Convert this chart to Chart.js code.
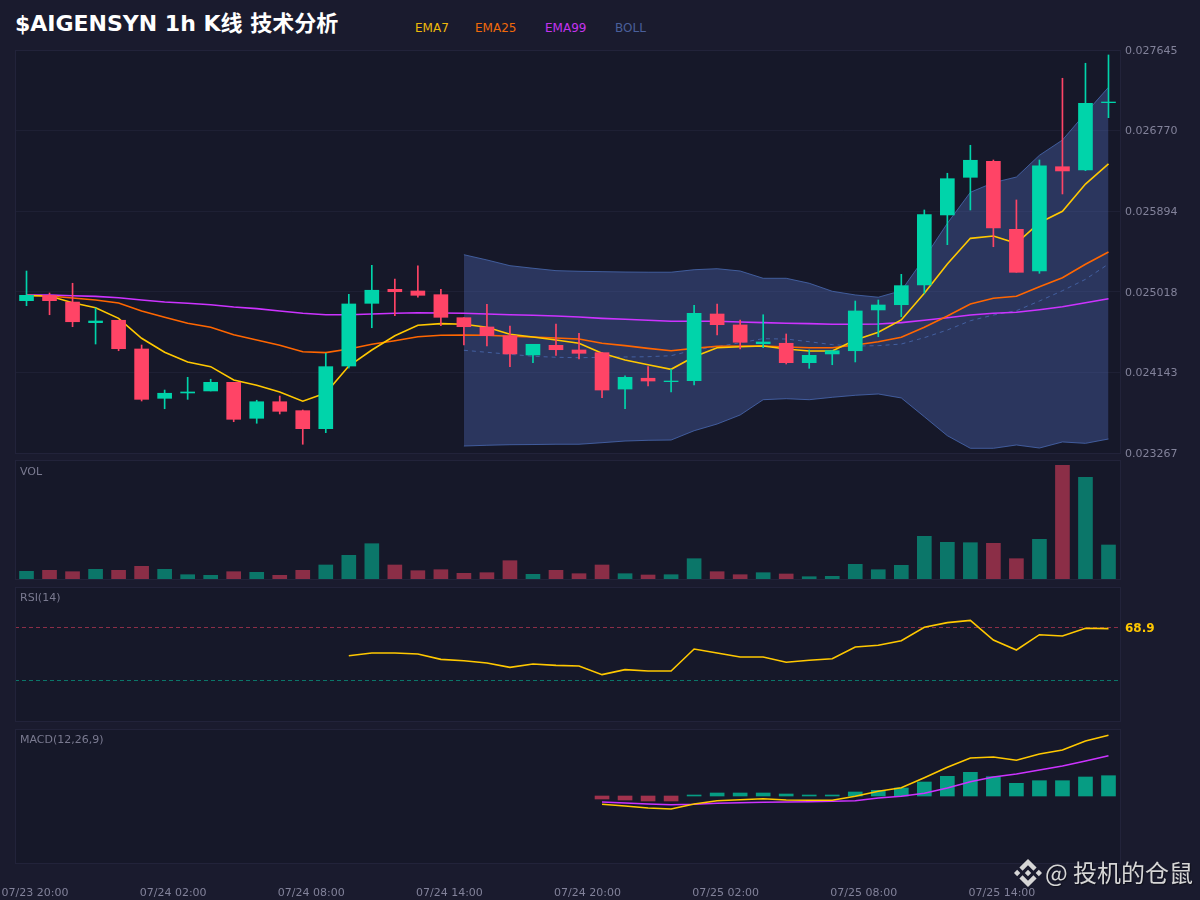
<!DOCTYPE html>
<html lang="zh">
<head>
<meta charset="utf-8">
<title>$AIGENSYN 1h K线 技术分析</title>
<script src="https://cdn.jsdelivr.net/npm/chart.js@4/dist/chart.umd.min.js"></script>
<style>
html,body{margin:0;padding:0;width:1200px;height:900px;overflow:hidden;background:#1a1b2e;font-family:"DejaVu Sans","Noto Sans CJK SC",sans-serif}
canvas{position:absolute;left:0}
.t{position:absolute;white-space:nowrap;line-height:1}
#title{left:15px;top:13px;font-size:22px;font-weight:bold;color:#fff}
.leg{top:22px;font-size:12px}
.pl{left:20px;font-size:11px;color:#7a7a90}
#wm{left:1045px;top:860px;font-size:24px;color:#d6d6d6;text-shadow:1px 1px 1px rgba(0,0,0,.45);font-family:"Noto Sans CJK SC","DejaVu Sans",sans-serif}
#logo{position:absolute;left:1014px;top:859px;width:28px;height:28px}
</style>
</head>
<body>
<div class="t" id="title">$AIGENSYN 1h K线 技术分析</div>
<div class="t leg" style="left:415px;color:#f0b90b">EMA7</div>
<div class="t leg" style="left:475px;color:#f06a0a">EMA25</div>
<div class="t leg" style="left:545px;color:#c434ee">EMA99</div>
<div class="t leg" style="left:615px;color:#4a5f9a">BOLL</div>
<canvas id="cMain" width="1200" height="422" style="top:40px"></canvas>
<canvas id="cVol" width="1200" height="121" style="top:459px"></canvas>
<canvas id="cRsi" width="1200" height="138" style="top:585px"></canvas>
<canvas id="cMacd" width="1200" height="173" style="top:727px"></canvas>
<div class="t pl" style="top:466px">VOL</div>
<div class="t pl" style="top:592px">RSI(14)</div>
<div class="t pl" style="top:734px">MACD(12,26,9)</div>
<svg id="logo" viewBox="0 0 126.61 126.61"><path fill="#d6d6d6" d="M38.73 53.2l24.59-24.58 24.6 24.6 14.3-14.31L63.32 0l-38.9 38.9zM0 63.31l14.3-14.31 14.31 14.31-14.31 14.3zm38.73 10.11l24.59 24.59 24.6-24.6 14.31 14.29-38.9 38.91-38.91-38.88-.02-.02zM98 63.31l14.3-14.31 14.31 14.3-14.31 14.32zM77.83 63.3L63.32 48.78 52.59 59.51l-1.24 1.23-2.54 2.54 14.51 14.5 14.51-14.47z"/></svg>
<div class="t" id="wm">@ 投机的仓鼠</div>
<script>
const times = ["07/23 20:00","07/23 21:00","07/23 22:00","07/23 23:00","07/24 00:00","07/24 01:00","07/24 02:00","07/24 03:00","07/24 04:00","07/24 05:00","07/24 06:00","07/24 07:00","07/24 08:00","07/24 09:00","07/24 10:00","07/24 11:00","07/24 12:00","07/24 13:00","07/24 14:00","07/24 15:00","07/24 16:00","07/24 17:00","07/24 18:00","07/24 19:00","07/24 20:00","07/24 21:00","07/24 22:00","07/24 23:00","07/25 00:00","07/25 01:00","07/25 02:00","07/25 03:00","07/25 04:00","07/25 05:00","07/25 06:00","07/25 07:00","07/25 08:00","07/25 09:00","07/25 10:00","07/25 11:00","07/25 12:00","07/25 13:00","07/25 14:00","07/25 15:00","07/25 16:00","07/25 17:00","07/25 18:00","07/25 19:00"];
const opens = [.024922,.024980,.024907,.024683,.024709,.024397,.023861,.023919,.023941,.024035,.023644,.023824,.023727,.023531,.024212,.024893,.025045,.025027,.024987,.024737,.024636,.024541,.024332,.024437,.024386,.024357,.023962,.024079,.024042,.024052,.024777,.024658,.024454,.024459,.024248,.024343,.024378,.024821,.024878,.025092,.025853,.026262,.026436,.025697,.025244,.026377,.026341,.027073];
const closes = [.024980,.024922,.024693,.024701,.024400,.023850,.023916,.023930,.024035,.023633,.023824,.023720,.023531,.024205,.024886,.025035,.025019,.024980,.024741,.024639,.024541,.024343,.024448,.024389,.024350,.023951,.024089,.024049,.024049,.024785,.024661,.024470,.024473,.024248,.024328,.024378,.024810,.024875,.025085,.025856,.026247,.026447,.025711,.025230,.026388,.026331,.027066,.027080];
const highs = [.025244,.025005,.025111,.024842,.024709,.024440,.023951,.024089,.024068,.024035,.023840,.023886,.023734,.024350,.024991,.025306,.025157,.025299,.025045,.024737,.024882,.024647,.024448,.024668,.024567,.024357,.024104,.024205,.024176,.024872,.024886,.024712,.024769,.024560,.024386,.024378,.024918,.024929,.025208,.025907,.026306,.026610,.026450,.026016,.026450,.027338,.027501,.027591];
const lows = [.024867,.024769,.024639,.024451,.024378,.023832,.023748,.023850,.023941,.023607,.023590,.023691,.023362,.023488,.024190,.024628,.024759,.024959,.024650,.024440,.024429,.024205,.024248,.024328,.024288,.023868,.023748,.023995,.023930,.024006,.024549,.024397,.024411,.024234,.024187,.024226,.024256,.024530,.024748,.025002,.025530,.025907,.025508,.025230,.025219,.026081,.026334,.026910];
const ema7 = [.024978,.024973,.024900,.024846,.024730,.024513,.024361,.024256,.024205,.024060,.024002,.023930,.023829,.023919,.024212,.024386,.024541,.024654,.024672,.024665,.024633,.024557,.024527,.024495,.024459,.024350,.024277,.024226,.024176,.024313,.024411,.024422,.024429,.024397,.024375,.024375,.024495,.024578,.024712,.025002,.025320,.025599,.025624,.025545,.025769,.025893,.026189,.026407];
const ema25 = [.024978,.024973,.024951,.024929,.024897,.024810,.024741,.024676,.024633,.024552,.024495,.024437,.024367,.024357,.024397,.024448,.024487,.024530,.024546,.024549,.024546,.024535,.024527,.024516,.024505,.024459,.024433,.024404,.024378,.024404,.024426,.024429,.024429,.024419,.024411,.024411,.024440,.024476,.024524,.024633,.024755,.024886,.024948,.024969,.025074,.025171,.025317,.025451];
const ema99 = [.024984,.024984,.024976,.024969,.024954,.024929,.024907,.024893,.024878,.024853,.024835,.024810,.024785,.024769,.024769,.024777,.024785,.024791,.024788,.024785,.024777,.024769,.024763,.024755,.024744,.024730,.024720,.024709,.024698,.024698,.024698,.024690,.024683,.024676,.024672,.024665,.024665,.024668,.024683,.024709,.024737,.024766,.024785,.024796,.024824,.024856,.024900,.024943];
const bollUpper = [null,null,null,null,null,null,null,null,null,null,null,null,null,null,null,null,null,null,null,.025421,.025364,.025302,.025274,.025248,.025241,.025237,.025233,.025231,.025231,.025258,.025269,.025244,.025165,.025165,.025111,.025024,.024984,.024959,.025030,.025385,.025762,.026099,.026204,.026265,.026501,.026667,.026958,.027240];
const bollLower = [null,null,null,null,null,null,null,null,null,null,null,null,null,null,null,null,null,null,null,.023343,.023351,.023357,.023359,.023362,.023362,.023379,.023397,.023405,.023408,.023509,.023582,.023680,.023846,.023857,.023846,.023872,.023894,.023908,.023865,.023661,.023455,.023318,.023318,.023354,.023321,.023387,.023372,.023419];
const bollMid = [null,null,null,null,null,null,null,null,null,null,null,null,null,null,null,null,null,null,null,.024383,.024361,.024339,.024318,.024307,.024302,.024307,.024310,.024313,.024324,.024386,.024422,.024465,.024509,.024505,.024476,.024444,.024429,.024433,.024451,.024520,.024603,.024704,.024766,.024813,.024918,.025030,.025154,.025320];
const volumes = [7.7,8.7,7.3,9.7,8.7,12.7,9.7,4.3,3.7,7.3,6.7,3.7,8.7,14,23.7,35.3,14,8.3,9.3,5.7,6.3,18.3,4.7,8.7,5.3,14,5.3,4,4.3,20.3,7.3,4.3,6.3,5,2.3,2.7,14.7,9.3,13.7,42.7,36.7,36.3,35.7,20.3,39.7,113.7,101.7,34];
const rsi = [null,null,null,null,null,null,null,null,null,null,null,null,null,null,48.7,50.7,50.7,50,46,45,43.3,40,42.5,41.5,41,34.6,38.3,37.3,37.3,53.7,50.7,47.8,47.8,43.8,45.3,46.5,55.2,56.5,59.9,69.9,73.4,75.1,60.4,53,64.4,63.4,69.2,68.9];
const macd = [null,null,null,null,null,null,null,null,null,null,null,null,null,null,null,null,null,null,null,null,null,null,null,null,null,-.000083,-.0001,-.00012,-.00013,-.00008,-.000047,-.000037,-.000027,-.00004,-.000043,-.000043,-.000003,.000047,.000083,.000183,.000287,.00038,.00039,.000357,.00042,.00046,.00055,.000607];
const macdSignal = [null,null,null,null,null,null,null,null,null,null,null,null,null,null,null,null,null,null,null,null,null,null,null,null,null,-.00006,-.00007,-.00008,-.000087,-.000083,-.000073,-.000067,-.000063,-.00006,-.000057,-.000053,-.000047,-.00002,-.000003,.000027,.00008,.000143,.00019,.00022,.00026,.0003,.00035,.000403];
const macdHist = [null,null,null,null,null,null,null,null,null,null,null,null,null,null,null,null,null,null,null,null,null,null,null,null,null,-.00003,-.00004,-.00005,-.00005,.00001,.00003,.00003,.00003,.00002,.00001,.00001,.00004,.000057,.00008,.00014,.000197,.000237,.000193,.000127,.000153,.000153,.00019,.000203];
const priceTicks = [.023267,.024143,.025018,.025894,.026770,.027645];

const GREEN='#00d4aa',RED='#ff4466',YEL='#ffc800',ORG='#ff6600',PUR='#cc33ff',BLU='rgba(70,102,172,.85)';
const PANEL='#161829',EDGE='#22233a',GRID='#1e2034',TICK='#82829a';
const FONT='"DejaVu Sans","Noto Sans CJK SC",sans-serif';
const panel={id:'panel',
  beforeDraw(c){const a=c.chartArea,x=c.ctx;x.save();x.fillStyle=PANEL;x.fillRect(a.left,a.top,a.width,a.height);x.restore();},
  afterDraw(c){const a=c.chartArea,x=c.ctx;x.save();x.strokeStyle=EDGE;x.lineWidth=1;x.strokeRect(a.left+.5,a.top+.5,a.width,a.height);x.restore();}};
const up=i=>closes[i]>=opens[i];
const dirColor=(g,r)=>times.map((_,i)=>up(i)?g:r);
const line=(label,data,color,order,extra)=>Object.assign({type:'line',label,data,borderColor:color,borderWidth:1.6,pointRadius:0,tension:0,order,spanGaps:false,fill:false},extra||{});
const hiddenX={display:false,offset:true,type:'category'};
const yFit=s=>{s.width=80;s.paddingTop=0;s.paddingBottom=0;};
const base=(padding)=>({responsive:false,animation:false,events:[],maintainAspectRatio:false,layout:{padding},plugins:{legend:{display:false},tooltip:{enabled:false},title:{display:false}}});
Chart.defaults.font.family=FONT;

new Chart(document.getElementById('cMain'),{type:'bar',plugins:[panel],data:{labels:times,datasets:[
  {type:'bar',label:'body',data:times.map((_,i)=>[opens[i],closes[i]]),backgroundColor:dirColor(GREEN,RED),barThickness:14,grouped:false,order:0,borderSkipped:false},
  {type:'bar',label:'wick',data:times.map((_,i)=>[lows[i],highs[i]]),backgroundColor:dirColor(GREEN,RED),barThickness:1,grouped:false,order:1,borderSkipped:false},
  line('EMA7',ema7,YEL,2),line('EMA25',ema25,ORG,3),line('EMA99',ema99,PUR,4),
  line('BOLL mid',bollMid,BLU,5,{borderWidth:1,borderDash:[4,4]}),
  line('BOLL upper',bollUpper,BLU,6,{borderWidth:1,fill:{target:'+1'},backgroundColor:'rgba(74,100,175,.4)'}),
  line('BOLL lower',bollLower,BLU,7,{borderWidth:1})
]},options:Object.assign(base({left:15,top:10,bottom:9,right:0}),{scales:{
  x:hiddenX,
  y:{position:'right',min:priceTicks[0],max:priceTicks[5],
    afterFit:yFit,
    afterBuildTicks(s){s.ticks=priceTicks.map(v=>({value:v}));},
    grid:{color:GRID,drawTicks:false,lineWidth:1},border:{display:false},
    ticks:{color:TICK,font:{size:11},padding:5,labelOffset:1,autoSkip:false,callback:v=>v.toFixed(6)}}
}})});

new Chart(document.getElementById('cVol'),{type:'bar',plugins:[panel],data:{labels:times,datasets:[
  {label:'VOL',data:volumes,backgroundColor:dirColor('rgba(0,212,170,.5)','rgba(255,68,102,.5)'),barThickness:14}
]},options:Object.assign(base({left:15,right:80,top:1,bottom:1}),{scales:{
  x:hiddenX,y:{display:false,min:0,max:119}
}})});

new Chart(document.getElementById('cRsi'),{type:'line',plugins:[panel],data:{labels:times,datasets:[
  line('RSI',rsi,YEL,1)
]},options:Object.assign(base({left:15,top:2,bottom:2,right:0}),{scales:{
  x:hiddenX,
  y:{position:'right',min:0,max:100,
    afterFit:yFit,
    afterBuildTicks(s){s.ticks=[{value:30},{value:rsi[47]},{value:70}];},
    border:{display:false,dash:[4,3]},
    grid:{drawTicks:false,lineWidth:1,color:c=>c.tick.value===70?'rgba(255,68,102,.5)':c.tick.value===30?'rgba(0,212,170,.5)':'rgba(0,0,0,0)'},
    ticks:{color:YEL,font:{size:12,weight:'bold'},padding:5,autoSkip:false,callback:v=>v===rsi[47]?v.toFixed(1):''}}
}})});

new Chart(document.getElementById('cMacd'),{type:'bar',plugins:[panel],data:{labels:times,datasets:[
  {type:'bar',label:'Hist',data:macdHist,backgroundColor:macdHist.map(v=>v>=0?'rgba(0,212,170,.7)':'rgba(255,68,102,.6)'),barThickness:14,order:2},
  line('MACD',macd,YEL,0),line('Signal',macdSignal,PUR,1)
]},options:Object.assign(base({left:15,right:80,top:2,bottom:0}),{scales:{
  x:{type:'category',offset:true,
    afterFit(s){s.height=37;s.paddingLeft=0;s.paddingRight=0;},
    grid:{display:false,drawTicks:false},border:{display:false},
    ticks:{color:TICK,font:{size:11},padding:24,autoSkip:false,maxRotation:0,minRotation:0,labelOffset:8.5,
      callback(v,i){return i%6===0?times[i]:'';}}},
  y:{display:false,min:-.00067,max:.00067}
}})});
</script>
</body>
</html>
